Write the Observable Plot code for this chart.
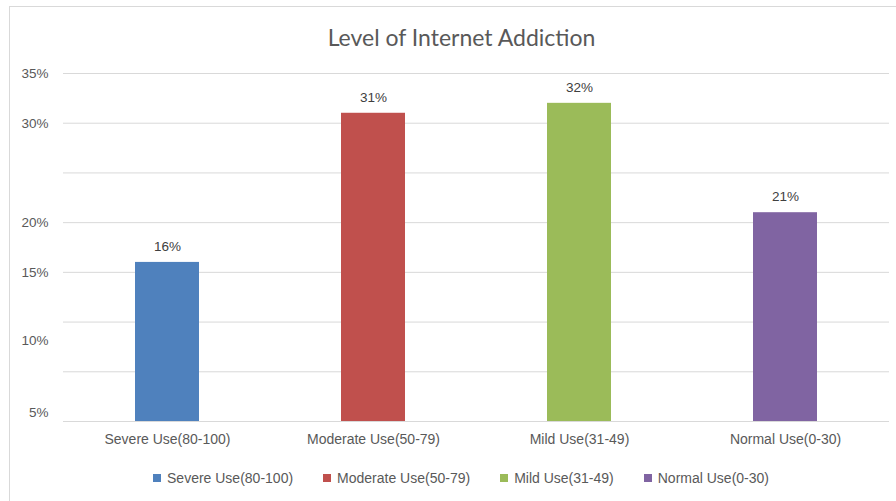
<!DOCTYPE html>
<html>
<head>
<meta charset="utf-8">
<script src="https://cdn.jsdelivr.net/npm/d3@7"></script>
<script src="https://cdn.jsdelivr.net/npm/@observablehq/plot@0.6"></script>
<style>
  html, body { margin: 0; padding: 0; background: #fff; }
  #chart { position: relative; width: 896px; height: 501px; overflow: hidden; }
  #frame { position: absolute; left: 9px; top: 6px; width: 910px; height: 520px;
           border: 1px solid #d9d9d9; box-sizing: border-box; pointer-events: none; }
  #legend { position: absolute; left: 0; top: 461px; width: 896px; }
  .lg-swatches { justify-content: center; font-family: "Liberation Sans", Arial, sans-serif;
                 font-size: 14px; color: #595959; padding-left: 56px; }
  .lg-swatch { margin-right: 30px !important; }
  .lg-swatch svg { margin-right: 6px !important; }
</style>
</head>
<body>
<div id="chart"><div id="frame"></div><div id="legend"></div></div>
<script>
// Share of respondents by level of internet addiction
const title = "Level of Internet Addiction";
const categories = ["Severe Use(80-100)", "Moderate Use(50-79)", "Mild Use(31-49)", "Normal Use(0-30)"];
const shares = [16, 31, 32, 21];
const colors = ["#4f81bd", "#c0504d", "#9bbb59", "#8064a2"];

// horizontal gridlines every 5%
const gridValues = [0, 5, 10, 15, 20, 25, 30, 35];
// y-axis labels as laid out on the chart
const tickLabels = ["35%", "30%", "20%", "15%", "10%", "5%"];
const tickValues = [35, 30, 20, 15, 8.1, 0.9];

const rows = categories.map((c, i) => ({category: c, share: shares[i]}));
const ticks = tickLabels.map((t, i) => ({label: t, value: tickValues[i]}));

const font = "'Liberation Sans', Arial, sans-serif";

const plot = Plot.plot({
  width: 896,
  height: 460,
  marginLeft: 63,
  marginRight: 7,
  marginTop: 73,
  marginBottom: 39,
  style: {fontFamily: font, background: "transparent", overflow: "visible"},
  x: {domain: categories, paddingInner: 0.69, paddingOuter: 0.345, label: null},
  y: {domain: [0, 35], axis: null},
  color: {domain: categories, range: colors},
  marks: [
    Plot.ruleY(gridValues, {stroke: "#d9d9d9", strokeWidth: 1}),
    Plot.barY(rows, {x: "category", y: "share", fill: "category"}),
    Plot.text(rows, {x: "category", y: "share", text: d => d.share + "%", dy: -16,
                     fontSize: 13.5, fill: "#404040"}),
    Plot.text(ticks, {y: "value", text: "label", frameAnchor: "left", textAnchor: "end",
                      dx: -15, fontSize: 13.5, fill: "#595959"}),
    Plot.axisX({tickSize: 0, tickPadding: 13, fontSize: 14, color: "#595959", label: null}),
    Plot.text([title], {frameAnchor: "top", lineAnchor: "middle", dx: -15, dy: -35, fontSize: 23,
                        fontFamily: "Lato, 'Open Sans', sans-serif", fill: "#595959"})
  ]
});
document.getElementById("chart").insertBefore(plot, document.getElementById("legend"));

const legend = plot.legend("color", {swatchSize: 8, className: "lg"});
document.getElementById("legend").appendChild(legend);
</script>
</body>
</html>
